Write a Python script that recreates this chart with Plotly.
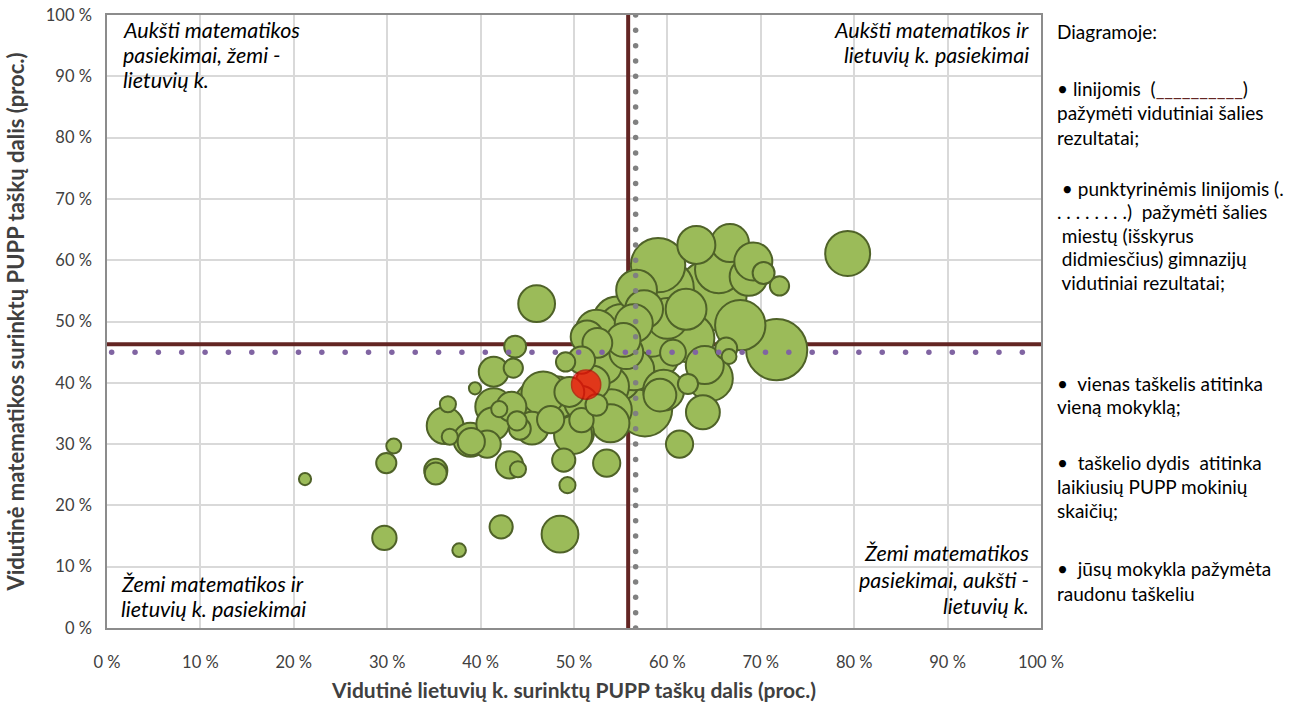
import numpy as np
import plotly.graph_objects as go

# --- data -------------------------------------------------------------
lit = [21.2, 30.7, 29.9, 35.2, 35.2, 36.7, 39.0, 40.7, 43.1, 44.0, 48.9, 49.3, 29.7, 37.7, 42.2,
       48.5, 49.9, 53.5, 46.0, 43.7, 41.4, 43.5, 39.4, 36.5, 36.2, 41.4, 42.0, 43.3, 41.3, 43.9,
       44.2, 45.5, 38.9, 46.0, 46.7, 48.1, 49.1, 50.1, 50.8, 50.8, 52.4, 51.4, 52.5, 50.8, 53.2,
       53.7, 53.9, 54.0, 56.4, 55.1, 58.3, 58.8, 57.6, 59.2, 60.6, 62.4, 62.2, 63.8, 61.3, 59.0,
       59.7, 64.7, 56.7, 63.1, 66.7, 69.2, 68.7, 70.3, 72.0, 71.7, 67.8, 66.3, 66.6, 64.6, 79.3,
       54.6, 55.3, 52.4, 54.9, 56.4, 57.8, 59.6, 64.0, 65.5, 55.6, 60.0, 57.5, 62.0, 47.5, 52.0,
       49.5]
mat = [24.3, 29.7, 26.9, 25.7, 25.2, 31.2, 30.4, 30.0, 26.6, 25.9, 27.4, 23.3, 14.7, 12.7, 16.5,
       15.3, 31.5, 26.9, 52.9, 45.9, 41.8, 42.4, 39.1, 36.5, 33.0, 36.1, 35.7, 36.1, 33.3, 33.8,
       32.5, 32.6, 30.7, 36.7, 38.3, 37.2, 43.4, 31.8, 33.9, 36.7, 36.4, 47.5, 46.5, 43.7, 42.7,
       39.4, 33.4, 35.6, 49.7, 49.2, 47.8, 44.3, 35.7, 38.0, 44.9, 47.3, 39.8, 35.2, 30.0, 59.2,
       55.4, 54.3, 55.1, 62.5, 62.8, 59.8, 57.3, 57.9, 55.8, 45.4, 49.4, 45.6, 44.3, 40.7, 61.1,
       50.2, 47.0, 48.6, 40.5, 42.1, 43.2, 38.8, 42.9, 58.5, 45.0, 50.5, 52.0, 52.0, 34.0, 40.0,
       38.5]
students = [8, 12, 22, 29, 26, 14, 40, 40, 40, 14, 29, 14, 32, 10, 29,
            73, 78, 40, 73, 26, 48, 20, 8, 14, 73, 73, 14, 48, 58, 20,
            26, 58, 62, 102, 102, 122, 20, 78, 32, 62, 26, 58, 48, 40, 68,
            90, 78, 90, 78, 109, 102, 109, 160, 58, 36, 130, 22, 62, 40, 160,
            185, 270, 90, 78, 78, 78, 78, 26, 20, 202, 137, 26, 12, 109, 109,
            122, 62, 90, 90, 90, 160, 90, 78, 122, 62, 90, 78, 90, 40, 62,
            48]

your_school_lit = [51.3]
your_school_mat = [39.7]
your_school_students = [46]

national_lit = 55.8      # solid lines – national averages
national_mat = 46.3
city_lit = 56.6          # dotted lines – town gymnasiums averages
city_mat = 45.0

x_ticks = list(range(0, 101, 10))
tick_labels = [f"{v} %" for v in x_ticks]

quadrant_labels = [
    ("tl", ["Aukšti matematikos", "pasiekimai, žemi -", "lietuvių k."]),
    ("tr", ["Aukšti matematikos ir", "lietuvių k. pasiekimai"]),
    ("bl", ["Žemi matematikos ir", "lietuvių k. pasiekimai"]),
    ("br", ["Žemi matematikos", "pasiekimai, aukšti -", "lietuvių k."]),
]

side_lines = [
    "Diagramoje:",
    "• linijomis  (<span style='color:#632523'>__________</span>)",
    "pažymėti vidutiniai šalies",
    "rezultatai;",
    " • punktyrinėmis linijomis (.",
    ". . . . . . . .)  pažymėti šalies",
    " miestų (išskyrus",
    " didmiesčius) gimnazijų",
    " vidutiniai rezultatai;",
    "•  vienas taškelis atitinka",
    "vieną mokyklą;",
    "•  taškelio dydis  atitinka",
    "laikiusių PUPP mokinių",
    "skaičių;",
    "•  jūsų mokykla pažymėta",
    "raudonu taškeliu",
]

# --- styles ------------------------------------------------------------
GREEN = "#9BBB59"
GREEN_EDGE = "#4F6228"
DARK_RED = "#632523"
PURPLE = "#8064A2"
GRAY_DOT = "#808080"
FONT = "Lato"

max_d = 50
sizeref = max(students) / max_d ** 2

order = np.argsort(students)[::-1]
lit_s = [lit[i] for i in order]
mat_s = [mat[i] for i in order]
stu_s = [students[i] for i in order]

fig = go.Figure()

# national average lines (under bubbles)
fig.add_trace(go.Scatter(x=[0, 100], y=[national_mat, national_mat], mode="lines",
                         line=dict(color=DARK_RED, width=4), hoverinfo="skip", showlegend=False))
fig.add_trace(go.Scatter(x=[national_lit, national_lit], y=[0, 100], mode="lines",
                         line=dict(color=DARK_RED, width=4), hoverinfo="skip", showlegend=False))

# bubbles
fig.add_trace(go.Scatter(
    x=lit_s, y=mat_s, mode="markers",
    marker=dict(size=stu_s, sizemode="area", sizeref=sizeref, color=GREEN,
                opacity=1, line=dict(color=GREEN_EDGE, width=2)),
    showlegend=False))

# dotted lines (town gymnasiums averages) drawn as round dots
hx = np.arange(0.5, 100, 2.5)
fig.add_trace(go.Scatter(x=hx, y=[city_mat] * len(hx), mode="markers",
                         marker=dict(size=5.5, color=PURPLE), hoverinfo="skip", showlegend=False))
vy = np.arange(0, 100.01, 2.5)
fig.add_trace(go.Scatter(x=[city_lit] * len(vy), y=vy, mode="markers",
                         marker=dict(size=5.5, color=GRAY_DOT), hoverinfo="skip", showlegend=False))

# your school
fig.add_trace(go.Scatter(
    x=your_school_lit, y=your_school_mat, mode="markers",
    marker=dict(size=your_school_students, sizemode="area", sizeref=sizeref, color="#FF0000",
                line=dict(color="#C00000", width=1.5)),
    showlegend=False))

axis_common = dict(range=[0, 100], tickvals=x_ticks, ticktext=tick_labels,
                   showgrid=True, gridcolor="#D9D9D9", gridwidth=1.5,
                   showline=True, linecolor="#8C8C8C", linewidth=1.5, mirror=True,
                   zeroline=False, ticks="", fixedrange=True, automargin=False,
                   ticklabeloverflow="allow",
                   tickfont=dict(family=FONT, size=16.5, color="#404040"))

fig.update_xaxes(**axis_common, ticklabelstandoff=18,
                 title=dict(text="<b>Vidutinė lietuvių k. surinktų PUPP taškų dalis (proc.)</b>",
                            font=dict(family=FONT, size=21, color="#404040"), standoff=19))
fig.update_yaxes(**axis_common, ticklabelstandoff=10,
                 title=dict(text="<b>Vidutinė matematikos surinktų PUPP taškų dalis (proc.)</b>",
                            font=dict(family=FONT, size=22, color="#404040"), standoff=15))

W, H = 1312, 702
PL, PR, PT, PB = 107, 1041, 15, 628          # plot area in page pixels
L, T = PL, PT
R = W - PR
B = H - PB
pw, ph = PR - PL, PB - PT


def px(xp):
    return (xp - PL) / pw


def py(yp):
    return (PB - yp) / ph


annotations = []
qfont = dict(family=FONT, size=21.5, color="#000000")
q_pos = {
    "tl": (121, "left", [30, 55, 80]),
    "tr": (1031, "right", [30, 55]),
    "bl": (119, "left", [584, 609]),
    "br": (1031, "right", [553, 580, 606]),
}
for key, lines in quadrant_labels:
    xpos, anchor, ys = q_pos[key]
    for line, yy in zip(lines, ys):
        annotations.append(dict(xref="paper", yref="paper", x=px(xpos), y=py(yy), xanchor=anchor,
                                yanchor="middle", showarrow=False, font=qfont,
                                text=f"<i>{line}</i>"))

rfont = dict(family=FONT, size=19, color="#000000")
side_y = [32, 88, 112, 137, 188, 211, 235, 258, 282, 383, 406, 462, 486, 510, 568, 593]
for txt, yy in zip(side_lines, side_y):
    annotations.append(dict(xref="paper", yref="paper", x=px(1055), y=py(yy), xanchor="left",
                            yanchor="middle", align="left", showarrow=False, font=rfont, text=txt))

fig.update_layout(width=W, height=H, margin=dict(l=L, r=R, t=T, b=B),
                  paper_bgcolor="white", plot_bgcolor="white",
                  annotations=annotations, showlegend=False)

fig.write_html("out.html", config={"displayModeBar": False},
               post_script="document.body.style.margin='0px';document.body.style.overflow='hidden';")
